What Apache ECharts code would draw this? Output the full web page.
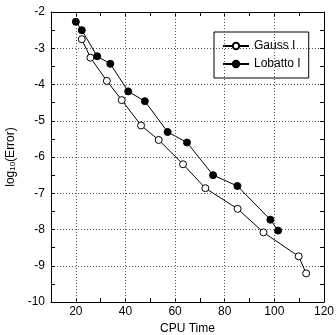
<!DOCTYPE html>
<html><head><meta charset="utf-8">
<script src="https://cdn.jsdelivr.net/npm/echarts@6/dist/echarts.min.js"></script>
<style>html,body{margin:0;padding:0;background:#fff}#c{width:336px;height:335px}</style>
</head><body><div id="c"></div>
<script>
const gaussX = [22.4, 25.9, 32.5, 38.5, 46.3, 53.4, 63.2, 72.2, 85.2, 95.6, 109.8, 112.8];
const gaussY = [-2.75, -3.26, -3.9, -4.43, -5.13, -5.53, -6.2, -6.86, -7.43, -8.08, -8.74, -9.21];
const lobattoX = [20.0, 22.4, 28.6, 33.9, 41.1, 47.8, 57.0, 64.8, 75.3, 85.1, 98.4, 101.5];
const lobattoY = [-2.27, -2.5, -3.22, -3.43, -4.19, -4.46, -5.31, -5.6, -6.5, -6.8, -7.73, -8.03];
const xLabelValues = [20, 40, 60, 80, 100, 120];
const xTickValues = [10, 20, 30, 40, 50, 60, 70, 80, 90, 100, 110, 120];
const xGridValues = [20, 40, 60, 80, 100];

const font = 'Liberation Sans, Arial, sans-serif';
const zip = (a, b) => a.map((v, i) => [v, b[i]]);
const chart = echarts.init(document.getElementById('c'));
const baseX = {type: 'value', min: 10, max: 120, gridIndex: 0};
const baseY = {type: 'value', min: -10, max: -2, interval: 1, gridIndex: 0};
chart.setOption({
  animation: false,
  grid: {left: 51, right: 12, top: 12, bottom: 33, containLabel: false, outerBoundsMode: 'none'},
  legend: {
    orient: 'vertical', left: 214, top: 32, width: 98,
    borderColor: '#000', borderWidth: 1, padding: [8, 8, 8, 8], itemGap: 6,
    itemWidth: 26, itemHeight: 8,
    textStyle: {fontFamily: font, fontSize: 12, color: '#000'},
    data: ['Gauss I', 'Lobatto I']
  },
  xAxis: [
    Object.assign({}, baseX, {
      position: 'bottom',
      name: 'CPU Time', nameLocation: 'middle', nameGap: 20,
      nameTextStyle: {fontFamily: font, fontSize: 12, color: '#000'},
      axisLine: {show: true, lineStyle: {color: '#000', width: 1}},
      axisTick: {inside: true, length: 4, customValues: xTickValues, lineStyle: {color: '#000'}},
      axisLabel: {customValues: xLabelValues, margin: 4, fontFamily: font, fontSize: 12, color: '#000'},
      splitLine: {show: false}
    }),
    Object.assign({}, baseX, {
      position: 'top',
      axisLine: {show: true, lineStyle: {color: '#000', width: 1}},
      axisTick: {inside: true, length: 4, customValues: xTickValues, lineStyle: {color: '#000'}},
      axisLabel: {show: false},
      splitLine: {show: false}
    })
  ],
  yAxis: [
    Object.assign({}, baseY, {
      position: 'left',
      name: '{a|log}{s|10}{a|(Error)}', nameLocation: 'middle', nameGap: 32, nameRotate: 90,
      nameTextStyle: {fontFamily: font, fontSize: 12, color: '#000',
        rich: {a: {fontFamily: font, fontSize: 12, color: '#000', lineHeight: 14, verticalAlign: 'bottom'},
               s: {fontFamily: font, fontSize: 8, color: '#000', lineHeight: 14, verticalAlign: 'bottom', padding: [4, 0, 0, 0]}}},
      axisLine: {show: true, lineStyle: {color: '#000', width: 1}},
      axisTick: {inside: true, length: 4, lineStyle: {color: '#000'}},
      minorTick: {show: true, splitNumber: 2, length: 4, lineStyle: {color: '#000'}},
      axisLabel: {margin: 6, fontFamily: font, fontSize: 12, color: '#000'},
      splitLine: {show: true, lineStyle: {color: '#555', type: [1, 2], width: 1}}
    }),
    Object.assign({}, baseY, {
      position: 'right',
      axisLine: {show: true, lineStyle: {color: '#000', width: 1}},
      axisTick: {inside: true, length: 4, lineStyle: {color: '#000'}},
      minorTick: {show: true, splitNumber: 2, length: 4, lineStyle: {color: '#000'}},
      axisLabel: {show: false},
      splitLine: {show: false}
    })
  ],
  series: [
    {
      name: 'Gauss I', type: 'line', xAxisIndex: 0, yAxisIndex: 0,
      data: zip(gaussX, gaussY), symbol: 'circle', symbolSize: 7,
      lineStyle: {color: '#000', width: 1},
      itemStyle: {color: '#fff', borderColor: '#000', borderWidth: 1},
      z: 3,
      markLine: {
        silent: true, symbol: 'none', label: {show: false},
        lineStyle: {color: '#555', type: [1, 2], width: 1},
        data: xGridValues.map(v => ({xAxis: v}))
      }
    },
    {
      name: 'Lobatto I', type: 'line', xAxisIndex: 0, yAxisIndex: 0,
      data: zip(lobattoX, lobattoY), symbol: 'circle', symbolSize: 7,
      lineStyle: {color: '#000', width: 1},
      itemStyle: {color: '#000', borderColor: '#000', borderWidth: 1},
      z: 4
    }
  ]
});
</script></body></html>
